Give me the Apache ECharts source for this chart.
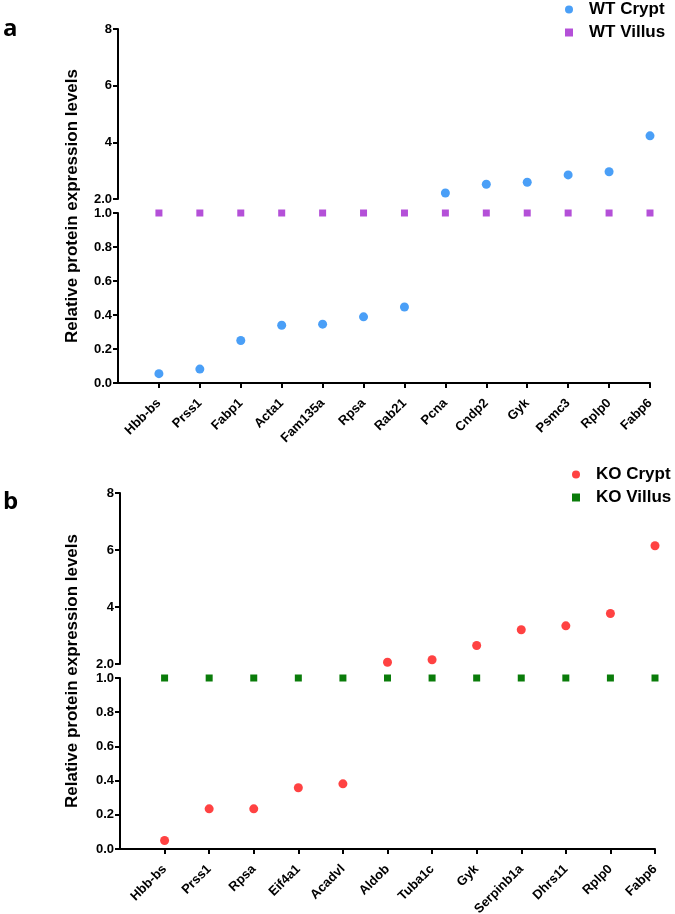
<!DOCTYPE html>
<html>
<head>
<meta charset="utf-8">
<script src="https://cdn.jsdelivr.net/npm/echarts@6/dist/echarts.min.js"></script>
<style>
html, body { margin: 0; padding: 0; background: #fff; }
#chart { width: 675px; height: 914px; }
</style>
</head>
<body>
<div id="chart"></div>
<script>
// panel a
var catsA = ['Hbb-bs', 'Prss1', 'Fabp1', 'Acta1', 'Fam135a', 'Rpsa', 'Rab21', 'Pcna', 'Cndp2', 'Gyk', 'Psmc3', 'Rplp0', 'Fabp6'];
var wtCrypt = [0.055, 0.082, 0.25, 0.34, 0.346, 0.389, 0.447, 2.21, 2.52, 2.59, 2.85, 2.96, 4.23];
var wtVillus = [1, 1, 1, 1, 1, 1, 1, 1, 1, 1, 1, 1, 1];
// panel b
var catsB = ['Hbb-bs', 'Prss1', 'Rpsa', 'Eif4a1', 'Acadvl', 'Aldob', 'Tuba1c', 'Gyk', 'Serpinb1a', 'Dhrs11', 'Rplp0', 'Fabp6'];
var koCrypt = [0.05, 0.235, 0.235, 0.358, 0.381, 2.06, 2.15, 2.65, 3.2, 3.34, 3.77, 6.15];
var koVillus = [1, 1, 1, 1, 1, 1, 1, 1, 1, 1, 1, 1];
// broken y axis: upper part 2..8, lower part 0..1
var upperRange = [2, 8, 2];
var lowerRange = [0, 1, 0.2];

var FONT = '"Liberation Sans", Arial, sans-serif';
var BLUE = '#4a9ff7', PURPLE = '#b450d8', RED = '#ff4242', GREEN = '#0a7c0a';

var chart = echarts.init(document.getElementById('chart'));

// split values onto the two halves of the broken axis
function part(cats, vals, upper) {
	var out = [];
	vals.forEach(function(v, i) {
		if ((upper && v >= upperRange[0]) || (!upper && v <= lowerRange[1])) out.push([cats[i], v]);
	});
	return out;
}

var axisLine = {show: true, lineStyle: {color: '#000', width: 2}};
var axisTick = {show: true, length: 5, inside: false, lineStyle: {color: '#000', width: 2}};
var labelStyle = {color: '#000', fontWeight: 'bold', fontSize: 13, fontFamily: FONT};

function xAxis(gi, cats, visible) {
	return {
		gridIndex: gi,
		type: 'category',
		data: [''].concat(cats), // empty slot = left padding before first gene
		boundaryGap: false,
		show: visible,
		axisLine: axisLine,
		axisTick: {show: true, length: 5, lineStyle: {color: '#000', width: 2},
			interval: function(idx) { return idx > 0; }},
		axisLabel: Object.assign({interval: 0, rotate: 45, margin: 18}, labelStyle),
		splitLine: {show: false}
	};
}

function yAxis(gi, r, fmt) {
	return {
		gridIndex: gi,
		type: 'value',
		min: r[0], max: r[1], interval: r[2],
		axisLine: axisLine,
		axisTick: axisTick,
		axisLabel: Object.assign({margin: 6, formatter: fmt}, labelStyle),
		splitLine: {show: false}
	};
}

var fmtUpper = function(v) { return v === 2 ? '2.0' : String(v); };
var fmtLower = function(v) { return v.toFixed(1); };

function scatter(name, xi, data, symbol, size, color) {
	return {
		name: name, type: 'scatter', xAxisIndex: xi, yAxisIndex: xi,
		symbol: symbol, symbolSize: size, clip: false,
		itemStyle: {color: color, opacity: 1},
		data: data
	};
}

function legend(names, left, top) {
	return {
		orient: 'vertical', left: left, top: top, padding: 0,
		itemWidth: 30, itemHeight: 8, itemGap: 6,
		data: [{name: names[0], icon: 'circle'}, {name: names[1], icon: 'path://M0,0H10V10H0Z'}],
		textStyle: {color: '#000', fontWeight: 'bold', fontSize: 17, fontFamily: FONT}
	};
}

function yTitle(x, y) {
	return {
		type: 'text', x: x, y: y, rotation: Math.PI / 2,
		style: {text: 'Relative protein expression levels', fill: '#000', align: 'center', verticalAlign: 'middle',
			font: 'bold 17px ' + FONT}
	};
}

function panelLetter(t, y) {
	return {
		type: 'text', x: 3, y: y,
		style: {text: t, fill: '#000', align: 'left', verticalAlign: 'middle', font: 'bold 24px "Open Sans", sans-serif'}
	};
}

var option = {
	animation: false,
	backgroundColor: '#fff',
	grid: [
		{left: 118, width: 532, top: 29, height: 170, outerBoundsMode: 'none'},
		{left: 118, width: 532, top: 213, height: 170, outerBoundsMode: 'none'},
		{left: 120, width: 535, top: 493, height: 171, outerBoundsMode: 'none'},
		{left: 120, width: 535, top: 678, height: 171, outerBoundsMode: 'none'}
	],
	xAxis: [xAxis(0, catsA, false), xAxis(1, catsA, true), xAxis(2, catsB, false), xAxis(3, catsB, true)],
	yAxis: [yAxis(0, upperRange, fmtUpper), yAxis(1, lowerRange, fmtLower), yAxis(2, upperRange, fmtUpper), yAxis(3, lowerRange, fmtLower)],
	legend: [legend(['WT Crypt', 'WT Villus'], 565, 1), legend(['KO Crypt', 'KO Villus'], 572, 466)],
	graphic: [panelLetter('a', 29), panelLetter('b', 502), yTitle(72, 206), yTitle(72, 671)],
	series: [
		scatter('WT Villus', 1, part(catsA, wtVillus, false), 'rect', 7, PURPLE),
		scatter('WT Crypt', 0, part(catsA, wtCrypt, true), 'circle', 9, BLUE),
		scatter('WT Crypt', 1, part(catsA, wtCrypt, false), 'circle', 9, BLUE),
		scatter('KO Villus', 3, part(catsB, koVillus, false), 'rect', 7, GREEN),
		scatter('KO Crypt', 2, part(catsB, koCrypt, true), 'circle', 9, RED),
		scatter('KO Crypt', 3, part(catsB, koCrypt, false), 'circle', 9, RED)
	]
};
chart.setOption(option);
</script>
</body>
</html>
